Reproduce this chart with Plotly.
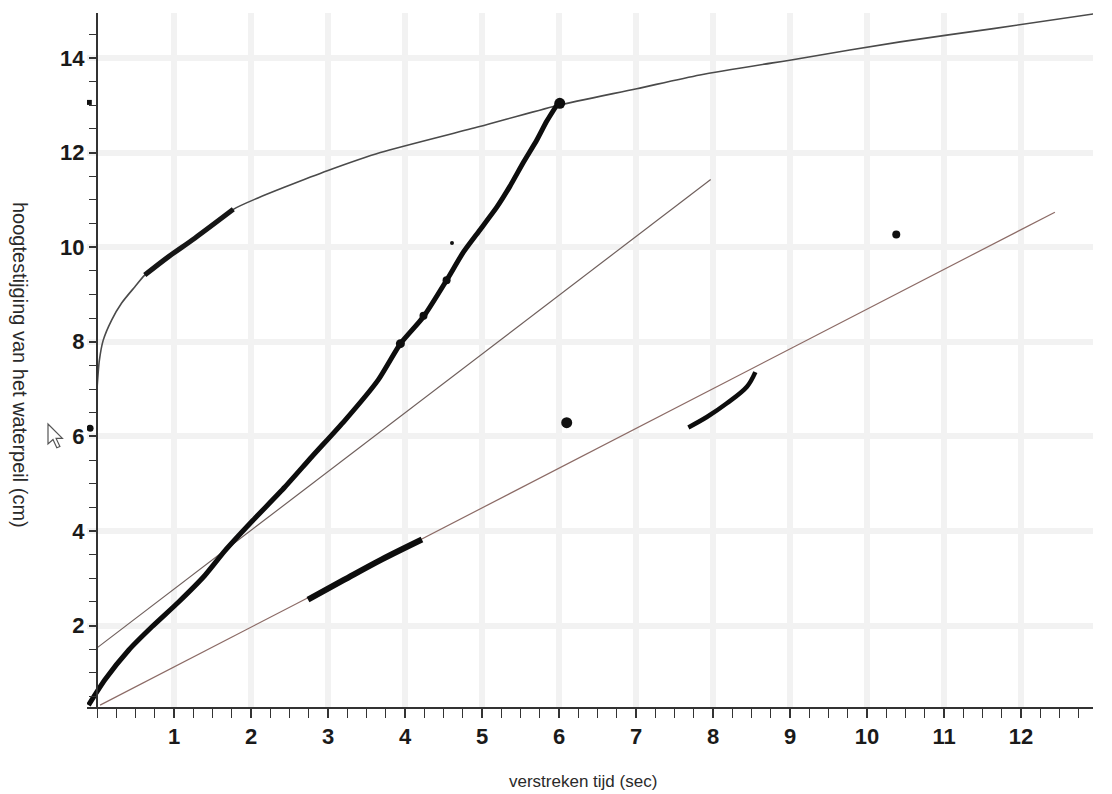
import plotly.graph_objects as go

# ---------------- data ----------------
# thin fitted curve (top)
curve_x = [0.0, 0.03, 0.08, 0.19, 0.32, 0.49, 0.62, 0.93, 1.27, 1.77, 2.09, 2.44,
           3.0, 3.68, 4.97, 5.97, 7.01, 7.83, 9.13, 10.43, 11.64, 12.94]
curve_y = [7.0, 7.6, 8.03, 8.46, 8.82, 9.16, 9.41, 9.80, 10.19, 10.80, 11.04, 11.27,
           11.62, 12.0, 12.55, 12.99, 13.35, 13.64, 13.99, 14.34, 14.62, 14.93]

# thick hand-drawn part on the curve
curve_thick_x = [0.62, 0.93, 1.27, 1.77]
curve_thick_y = [9.41, 9.80, 10.19, 10.80]

# thick measured line
meas_x = [-0.11, 0.10, 0.41, 0.71, 1.06, 1.40, 1.66, 2.01, 2.44, 2.79, 3.22, 3.65,
          3.94, 4.24, 4.54, 4.76, 4.97, 5.19, 5.36, 5.54, 5.71, 5.84, 5.97]
meas_y = [0.32, 0.85, 1.48, 1.97, 2.50, 3.06, 3.58, 4.20, 4.93, 5.57, 6.34, 7.19,
          7.96, 8.53, 9.30, 9.90, 10.36, 10.84, 11.28, 11.80, 12.26, 12.66, 13.00]

# blobs along the thick line
blob_x = [3.94, 4.24, 4.54, 6.01]
blob_y = [7.96, 8.55, 9.30, 13.04]
blob_size = [9, 8, 8, 11]

# upper straight thin line
line_a_x = [0.0, 7.97]
line_a_y = [1.53, 11.43]

# lower straight thin line
line_b_x = [0.04, 12.44]
line_b_y = [0.32, 10.74]

# thick segment on lower line
seg_b_x = [2.74, 3.20, 3.70, 4.22]
seg_b_y = [2.55, 2.96, 3.40, 3.82]

# small hooked stroke
hook_x = [7.68, 7.92, 8.18, 8.44, 8.55]
hook_y = [6.19, 6.41, 6.70, 7.05, 7.36]

# stray dots
dot_x = [6.10, 10.38, -0.09, 4.61]
dot_y = [6.29, 10.27, 6.17, 10.09]
dot_size = [11, 8, 7, 4]
sq_x = [-0.10]
sq_y = [13.06]

x_ticks = list(range(1, 13))
y_ticks = list(range(2, 15, 2))

x_title = "verstreken tijd (sec)"
y_title = "hoogtestijging van het waterpeil (cm)"

# ---------------- figure ----------------
OFF = 8  # page body margin
W, H = 1112, 794
ML, MR, MT, MB = 87 - OFF, 19 + OFF, 13 - OFF, 87 + OFF
X_RANGE = [-0.13, 12.935]
Y_RANGE = [0.28, 14.95]
pw = W - ML - MR
ph = H - MT - MB


def page_to_paper(x, y):
    return ((x - OFF - ML) / pw, (H - MB - (y - OFF)) / ph)


fig = go.Figure()

fig.add_trace(go.Scatter(x=curve_x, y=curve_y, mode="lines",
                         line=dict(color="#4a4a4a", width=1.6, shape="spline", smoothing=0.7)))
fig.add_trace(go.Scatter(x=line_a_x, y=line_a_y, mode="lines",
                         line=dict(color="#6f5f5c", width=1.2)))
fig.add_trace(go.Scatter(x=line_b_x, y=line_b_y, mode="lines",
                         line=dict(color="#8c6b66", width=1.2)))
fig.add_trace(go.Scatter(x=curve_thick_x, y=curve_thick_y, mode="lines",
                         line=dict(color="#161616", width=5, shape="spline")))
fig.add_trace(go.Scatter(x=meas_x, y=meas_y, mode="lines",
                         line=dict(color="#0d0d0d", width=5, shape="spline", smoothing=0.6)))
fig.add_trace(go.Scatter(x=seg_b_x, y=seg_b_y, mode="lines",
                         line=dict(color="#0d0d0d", width=6, shape="spline")))
fig.add_trace(go.Scatter(x=hook_x, y=hook_y, mode="lines",
                         line=dict(color="#0d0d0d", width=4.5, shape="spline")))
fig.add_trace(go.Scatter(x=blob_x, y=blob_y, mode="markers",
                         marker=dict(color="#0d0d0d", size=blob_size, opacity=1,
                                     line=dict(width=0))))
fig.add_trace(go.Scatter(x=dot_x, y=dot_y, mode="markers",
                         marker=dict(color="#111111", size=dot_size, opacity=1,
                                     line=dict(width=0))))
fig.add_trace(go.Scatter(x=sq_x, y=sq_y, mode="markers",
                         marker=dict(color="#111111", size=5, symbol="square", opacity=1,
                                     line=dict(width=0))))

tickfont = dict(family="Liberation Sans, Arial", size=22, color="#1a1a1a", weight="bold")

fig.update_layout(
    width=W, height=H,
    margin=dict(l=ML, r=MR, t=MT, b=MB, pad=0),
    paper_bgcolor="white", plot_bgcolor="white",
    showlegend=False,
    xaxis=dict(range=X_RANGE, tickmode="array", tickvals=x_ticks,
               ticktext=[str(v) for v in x_ticks],
               ticks="outside", ticklen=9, tickwidth=1.5, tickcolor="#333",
               showline=True, linecolor="#333", linewidth=2,
               showgrid=True, gridcolor="#f2f2f2", gridwidth=6,
               zeroline=False, tickfont=tickfont,
               minor=dict(dtick=0.25, tick0=0, ticks="outside", ticklen=9,
                          tickwidth=1.2, tickcolor="#333", showgrid=False)),
    yaxis=dict(range=Y_RANGE, tickmode="array", tickvals=y_ticks,
               ticktext=[str(v) for v in y_ticks],
               anchor="free", position=(97 - OFF - ML) / pw,
               ticks="outside", ticklen=7, tickwidth=1.5, tickcolor="#333",
               showline=True, linecolor="#333", linewidth=2,
               showgrid=True, gridcolor="#f2f2f2", gridwidth=6,
               zeroline=False, tickfont=tickfont,
               minor=dict(dtick=0.5, tick0=0, ticks="outside", ticklen=7,
                          tickwidth=1.2, tickcolor="#333", showgrid=False)),
)

# slightly darker grid lines seen in the scan
fig.add_shape(type="line", xref="x", yref="paper", x0=7, x1=7, y0=0, y1=0.985,
              line=dict(color="#dadada", width=1.5), layer="below")
fig.add_shape(type="line", xref="paper", yref="y", x0=0.01, x1=0.99, y0=6, y1=6,
              line=dict(color="#dadada", width=1.5), layer="below")

# axis titles
xt = page_to_paper(583, 781)
fig.add_annotation(text=x_title, xref="paper", yref="paper", x=xt[0], y=xt[1],
                   showarrow=False, xanchor="center", yanchor="middle",
                   font=dict(family="Liberation Sans, Arial", size=17, color="#2a2a2a"))
yt = page_to_paper(20, 365)
fig.add_annotation(text=y_title, xref="paper", yref="paper", x=yt[0], y=yt[1],
                   textangle=90, showarrow=False, xanchor="center", yanchor="middle",
                   font=dict(family="Liberation Sans, Arial", size=20, color="#2a2a2a"))

# mouse cursor captured in the screenshot
tip = (48, 424)
pts = [(0, 0), (0, 20), (5, 15.6), (8.8, 23.8), (11.9, 22.5), (8.1, 14.4), (14.4, 14.4)]
path = "M " + " L ".join(
    "{:.5f},{:.5f}".format(*page_to_paper(tip[0] + p[0], tip[1] + p[1])) for p in pts) + " Z"
fig.add_shape(type="path", xref="paper", yref="paper", path=path,
              line=dict(color="#555", width=1.2), fillcolor="white")

fig.write_html("out.html")
